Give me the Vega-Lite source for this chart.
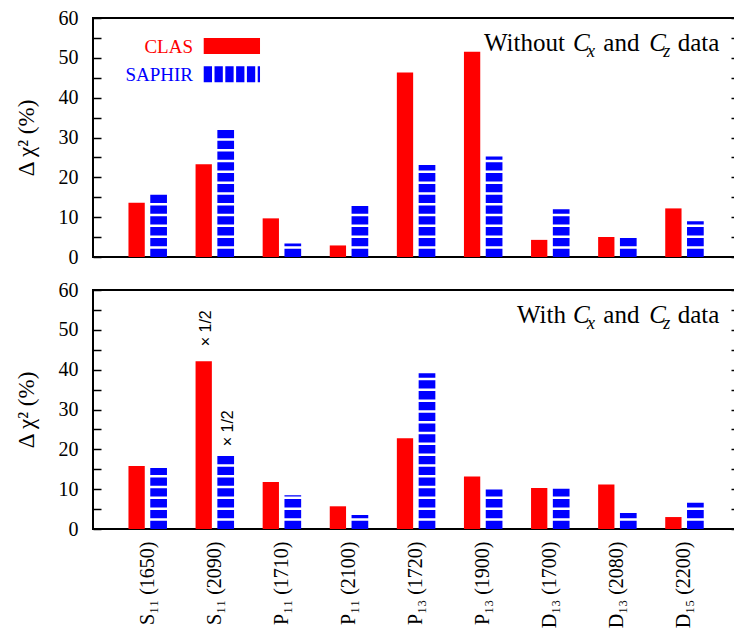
{
  "$schema": "https://vega.github.io/schema/vega-lite/v6.json",
  "padding": {"left": 14, "top": 7, "right": 0, "bottom": 0},
  "datasets": {
    "without": [
      {"state": "S₁₁ (1650)", "clas": 13.6, "saphir": 15.9},
      {"state": "S₁₁ (2090)", "clas": 23.3, "saphir": 32.5},
      {"state": "P₁₁ (1710)", "clas": 9.7, "saphir": 3.4},
      {"state": "P₁₁ (2100)", "clas": 2.9, "saphir": 12.8},
      {"state": "P₁₃ (1720)", "clas": 46.3, "saphir": 23.1},
      {"state": "P₁₃ (1900)", "clas": 51.5, "saphir": 25.2},
      {"state": "D₁₃ (1700)", "clas": 4.3, "saphir": 12.0},
      {"state": "D₁₃ (2080)", "clas": 5.0, "saphir": 4.8},
      {"state": "D₁₅ (2200)", "clas": 12.2, "saphir": 9.0}
    ],
    "with": [
      {"state": "S₁₁ (1650)", "clas": 15.8, "saphir": 15.3},
      {"state": "S₁₁ (2090)", "clas": 42.1, "saphir": 18.5, "clas_note": "× 1/2", "saphir_note": "× 1/2"},
      {"state": "P₁₁ (1710)", "clas": 11.8, "saphir": 8.5},
      {"state": "P₁₁ (2100)", "clas": 5.7, "saphir": 3.5},
      {"state": "P₁₃ (1720)", "clas": 22.8, "saphir": 39.1},
      {"state": "P₁₃ (1900)", "clas": 13.2, "saphir": 9.9},
      {"state": "D₁₃ (1700)", "clas": 10.3, "saphir": 10.1},
      {"state": "D₁₃ (2080)", "clas": 11.2, "saphir": 4.0},
      {"state": "D₁₅ (2200)", "clas": 3.0, "saphir": 6.6}
    ]
  },
  "spacing": 11,
  "vconcat": [
    {
      "width": 646,
      "height": 239,
      "data": {"name": "without"},
      "layer": [
        {
          "mark": {"type": "bar", "color": "#ff0000", "width": 16.3, "xOffset": -11},
          "encoding": {
            "x": {"field": "state", "type": "nominal", "sort": null,
                  "scale": {"paddingInner": 0, "paddingOuter": 0.314},
                  "axis": {"labels": false, "ticks": false, "domain": false, "title": null}},
            "y": {"field": "clas", "type": "quantitative",
                  "scale": {"domain": [0, 60], "nice": false},
                  "axis": {"orient": "left", "values": [0, 5, 10, 15, 20, 25, 30, 35, 40, 45, 50, 55, 60],
                           "labelExpr": "datum.value % 10 === 0 ? datum.label : ''",
                           "tickSize": -8, "tickWidth": 1.5, "tickColor": "black",
                           "domain": false, "grid": false,
                           "labelFont": "Liberation Serif", "labelFontSize": 20, "labelColor": "black", "labelPadding": 23,
                           "title": "Δ χ² (%)", "titleFont": "Liberation Serif", "titleFontSize": 23, "titleFontWeight": "normal",
                           "titleColor": "black", "titlePadding": 20}}
          }
        },
        {
          "mark": {"type": "rule", "color": "#0000ff", "strokeWidth": 16.7, "strokeDash": [8.3, 2.5], "xOffset": 11,
                   "strokeDashOffset": {"expr": "((8.3 - datum.saphir * 239 / 60) % 10.8 + 10.8) % 10.8"}},
          "encoding": {
            "x": {"field": "state", "type": "nominal", "sort": null},
            "y": {"field": "saphir", "type": "quantitative",
                  "axis": {"orient": "right", "values": [0, 5, 10, 15, 20, 25, 30, 35, 40, 45, 50, 55, 60],
                           "labels": false, "tickSize": -8, "tickWidth": 1.5, "tickColor": "black",
                           "domain": false, "grid": false, "title": null}},
            "y2": {"datum": 0}
          }
        },
        {
          "transform": [{"filter": "datum.state === 'S₁₁ (1650)'"}],
          "layer": [
            {
              "mark": {"type": "text", "text": "CLAS", "font": "Liberation Serif", "color": "#ff0000", "fontSize": 19, "align": "right", "baseline": "alphabetic", "dx": 45.4},
              "encoding": {"y": {"datum": 51.3, "type": "quantitative", "axis": null}}
            },
            {
              "mark": {"type": "point", "shape": "M-1,0H1", "size": 3170, "filled": false, "opacity": 1, "color": "#ff0000", "strokeWidth": 16, "strokeCap": "butt", "xOffset": 84.25},
              "encoding": {"y": {"datum": 53.0, "type": "quantitative", "axis": null}}
            },
            {
              "mark": {"type": "text", "text": "SAPHIR", "font": "Liberation Serif", "color": "#0000ff", "fontSize": 19, "align": "right", "baseline": "alphabetic", "dx": 45.4},
              "encoding": {"y": {"datum": 44.1, "type": "quantitative", "axis": null}}
            },
            {
              "mark": {"type": "point", "shape": "M-1,0H1", "size": 3170, "filled": false, "opacity": 1, "color": "#0000ff", "strokeWidth": 16, "strokeCap": "butt", "strokeDash": [8.3, 2.5], "xOffset": 84.25},
              "encoding": {"y": {"datum": 45.9, "type": "quantitative", "axis": null}}
            }
          ],
          "encoding": {"x": {"field": "state", "type": "nominal", "sort": null}}
        },
        {
          "transform": [{"filter": "datum.state === 'D₁₅ (2200)'"}],
          "layer": [
            {"mark": {"type": "text", "text": "Without", "font": "Liberation Serif", "fontSize": 25, "align": "left", "baseline": "alphabetic", "dx": -200.4}},
            {"mark": {"type": "text", "text": "C", "font": "Liberation Serif", "fontSize": 25, "fontStyle": "italic", "align": "left", "baseline": "alphabetic", "dx": -111.4}},
            {"mark": {"type": "text", "text": "x", "font": "Liberation Serif", "fontSize": 18, "fontStyle": "italic", "align": "left", "baseline": "alphabetic", "dx": -97.4, "dy": 5.5}},
            {"mark": {"type": "text", "text": "and", "font": "Liberation Serif", "fontSize": 25, "align": "left", "baseline": "alphabetic", "dx": -81.1}},
            {"mark": {"type": "text", "text": "C", "font": "Liberation Serif", "fontSize": 25, "fontStyle": "italic", "align": "left", "baseline": "alphabetic", "dx": -35.1}},
            {"mark": {"type": "text", "text": "z", "font": "Liberation Serif", "fontSize": 18, "fontStyle": "italic", "align": "left", "baseline": "alphabetic", "dx": -21.1, "dy": 5.5}},
            {"mark": {"type": "text", "text": "data", "font": "Liberation Serif", "fontSize": 25, "align": "left", "baseline": "alphabetic", "dx": -6.7}}
          ],
          "encoding": {
            "x": {"field": "state", "type": "nominal", "sort": null},
            "y": {"datum": 51.6, "type": "quantitative", "axis": null}
          }
        }
      ],
      "resolve": {"axis": {"y": "independent"}}
    },
    {
      "width": 646,
      "height": 239,
      "data": {"name": "with"},
      "layer": [
        {
          "mark": {"type": "bar", "color": "#ff0000", "width": 16.3, "xOffset": -11},
          "encoding": {
            "x": {"field": "state", "type": "nominal", "sort": null,
                  "scale": {"paddingInner": 0, "paddingOuter": 0.314},
                  "axis": {"labels": true, "ticks": false, "domain": false, "title": null,
                           "labelAngle": 270, "labelFont": "Liberation Serif", "labelFontSize": 20,
                           "labelColor": "black", "labelPadding": 12}},
            "y": {"field": "clas", "type": "quantitative",
                  "scale": {"domain": [0, 60], "nice": false},
                  "axis": {"orient": "left", "values": [0, 5, 10, 15, 20, 25, 30, 35, 40, 45, 50, 55, 60],
                           "labelExpr": "datum.value % 10 === 0 ? datum.label : ''",
                           "tickSize": -8, "tickWidth": 1.5, "tickColor": "black",
                           "domain": false, "grid": false,
                           "labelFont": "Liberation Serif", "labelFontSize": 20, "labelColor": "black", "labelPadding": 23,
                           "title": "Δ χ² (%)", "titleFont": "Liberation Serif", "titleFontSize": 23, "titleFontWeight": "normal",
                           "titleColor": "black", "titlePadding": 20}}
          }
        },
        {
          "mark": {"type": "rule", "color": "#0000ff", "strokeWidth": 16.7, "strokeDash": [8.3, 2.5], "xOffset": 11,
                   "strokeDashOffset": {"expr": "((8.3 - datum.saphir * 239 / 60) % 10.8 + 10.8) % 10.8"}},
          "encoding": {
            "x": {"field": "state", "type": "nominal", "sort": null},
            "y": {"field": "saphir", "type": "quantitative",
                  "axis": {"orient": "right", "values": [0, 5, 10, 15, 20, 25, 30, 35, 40, 45, 50, 55, 60],
                           "labels": false, "tickSize": -8, "tickWidth": 1.5, "tickColor": "black",
                           "domain": false, "grid": false, "title": null}},
            "y2": {"datum": 0}
          }
        },
        {
          "transform": [{"filter": "datum.clas_note"}],
          "mark": {"type": "text", "font": "Liberation Sans", "fontSize": 16, "angle": 270, "align": "left", "baseline": "middle", "xOffset": -9, "dx": 15},
          "encoding": {
            "x": {"field": "state", "type": "nominal", "sort": null},
            "y": {"field": "clas", "type": "quantitative", "axis": null},
            "text": {"field": "clas_note", "type": "nominal"}
          }
        },
        {
          "transform": [{"filter": "datum.saphir_note"}],
          "mark": {"type": "text", "font": "Liberation Sans", "fontSize": 16, "angle": 270, "align": "left", "baseline": "middle", "xOffset": 13, "dx": 9},
          "encoding": {
            "x": {"field": "state", "type": "nominal", "sort": null},
            "y": {"field": "saphir", "type": "quantitative", "axis": null},
            "text": {"field": "saphir_note", "type": "nominal"}
          }
        },
        {
          "transform": [{"filter": "datum.state === 'D₁₅ (2200)'"}],
          "layer": [
            {"mark": {"type": "text", "text": "With", "font": "Liberation Serif", "fontSize": 25, "align": "left", "baseline": "alphabetic", "dx": -167.4}},
            {"mark": {"type": "text", "text": "C", "font": "Liberation Serif", "fontSize": 25, "fontStyle": "italic", "align": "left", "baseline": "alphabetic", "dx": -111.4}},
            {"mark": {"type": "text", "text": "x", "font": "Liberation Serif", "fontSize": 18, "fontStyle": "italic", "align": "left", "baseline": "alphabetic", "dx": -97.4, "dy": 5.5}},
            {"mark": {"type": "text", "text": "and", "font": "Liberation Serif", "fontSize": 25, "align": "left", "baseline": "alphabetic", "dx": -81.1}},
            {"mark": {"type": "text", "text": "C", "font": "Liberation Serif", "fontSize": 25, "fontStyle": "italic", "align": "left", "baseline": "alphabetic", "dx": -35.1}},
            {"mark": {"type": "text", "text": "z", "font": "Liberation Serif", "fontSize": 18, "fontStyle": "italic", "align": "left", "baseline": "alphabetic", "dx": -21.1, "dy": 5.5}},
            {"mark": {"type": "text", "text": "data", "font": "Liberation Serif", "fontSize": 25, "align": "left", "baseline": "alphabetic", "dx": -6.7}}
          ],
          "encoding": {
            "x": {"field": "state", "type": "nominal", "sort": null},
            "y": {"datum": 51.6, "type": "quantitative", "axis": null}
          }
        }
      ],
      "resolve": {"axis": {"y": "independent"}}
    }
  ],
  "config": {
    "font": "Liberation Serif",
    "view": {"stroke": "black", "strokeWidth": 2},
    "text": {"color": "black", "font": "Liberation Serif"},
    "axis": {"labelFont": "Liberation Serif", "titleFont": "Liberation Serif"}
  }
}
